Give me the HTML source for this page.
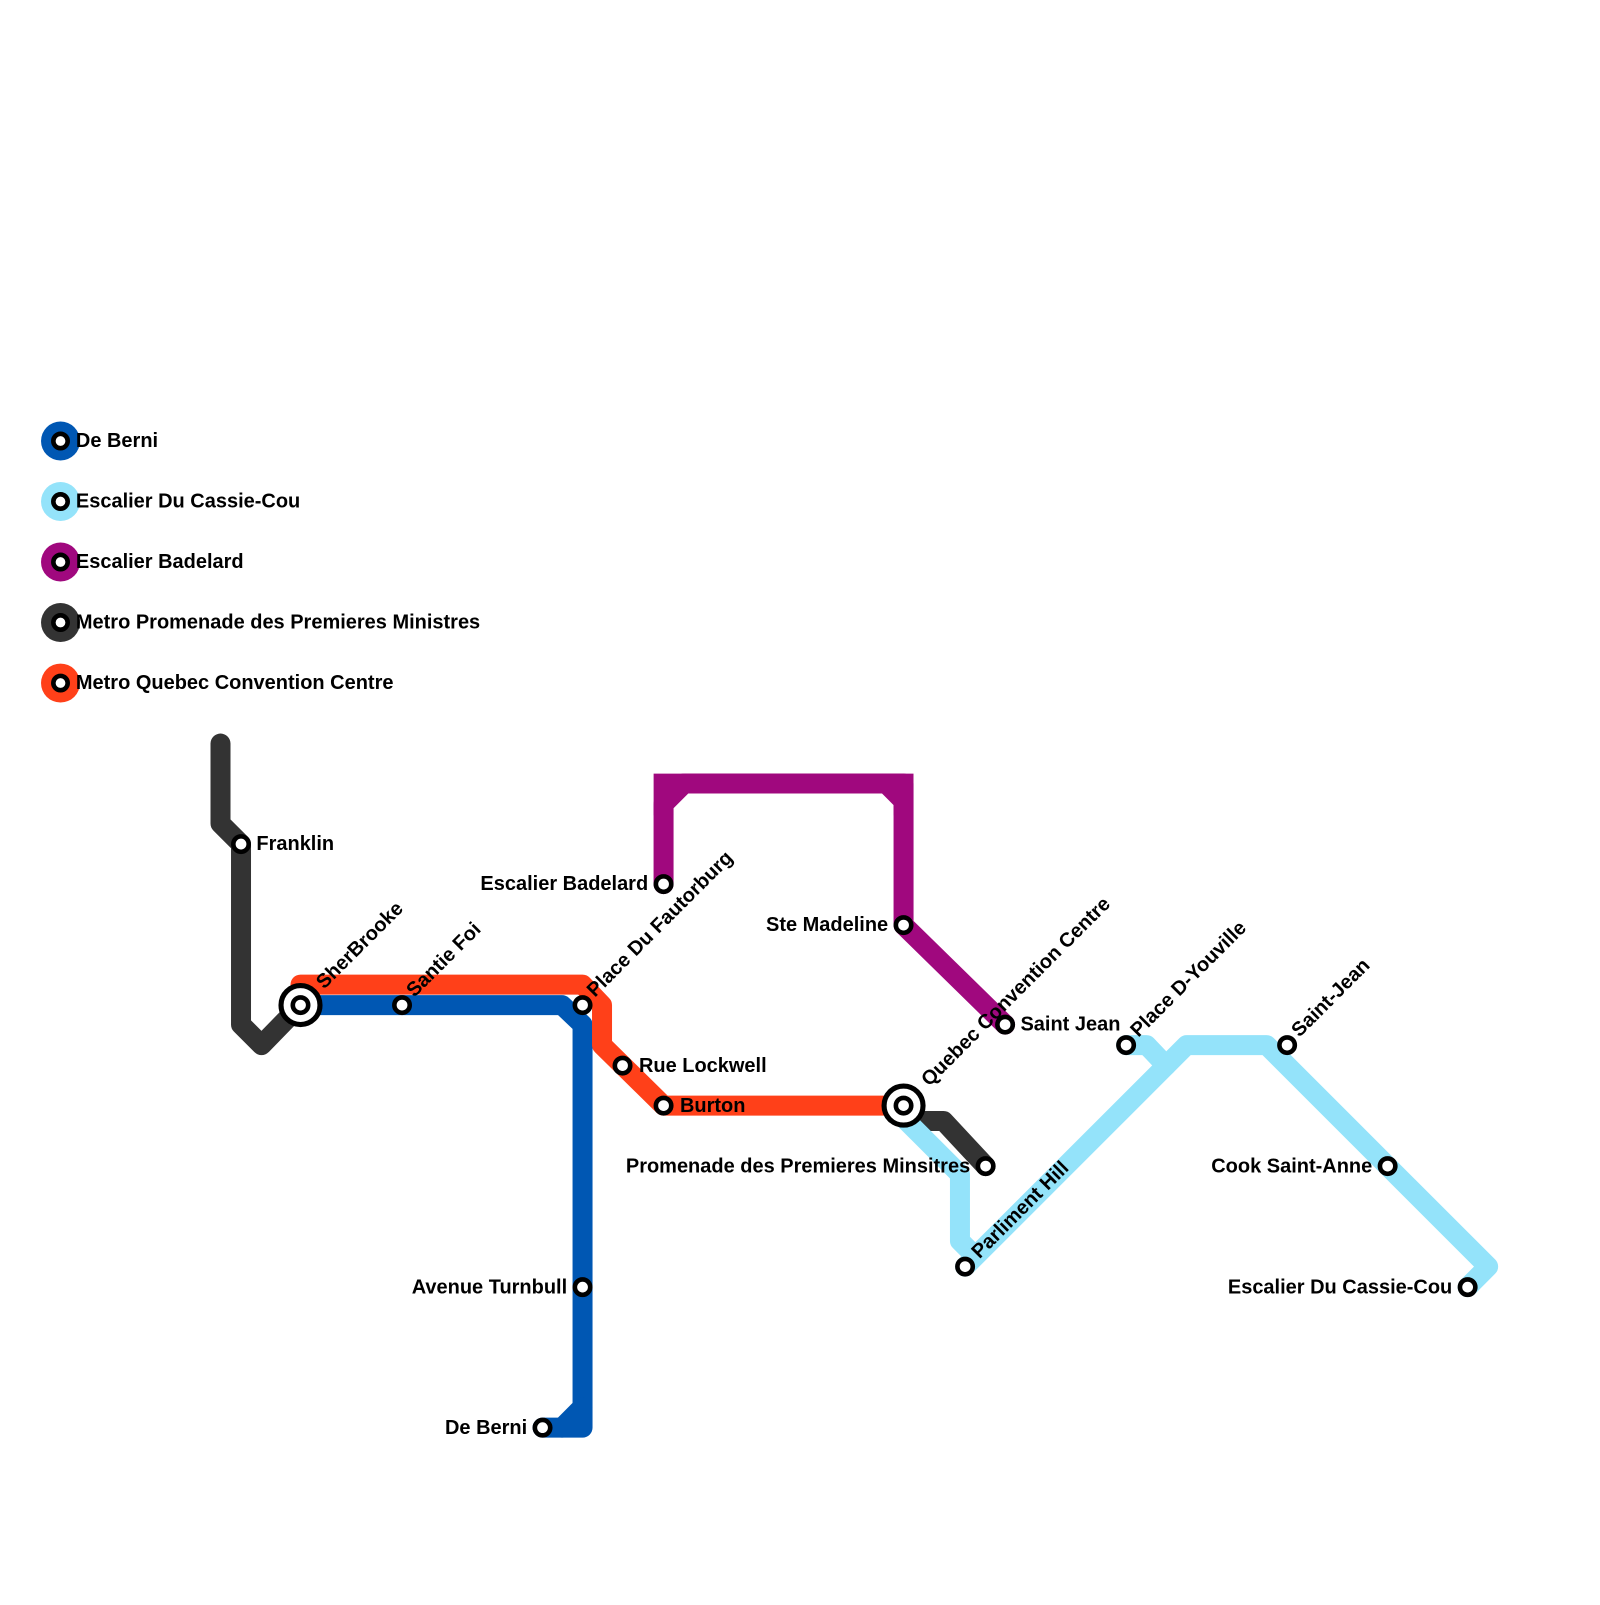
<!DOCTYPE html>
<html><head><meta charset="utf-8"><style>
html,body{margin:0;padding:0;background:#fff;}
svg text{font-family:"Liberation Sans",sans-serif;font-weight:bold;font-size:19.5px;fill:#000;}
</style></head><body>
<svg width="1600" height="1600" viewBox="0 0 1600 1600" xmlns="http://www.w3.org/2000/svg">
<g transform="scale(1.0256)">
<g fill="none" stroke-width="19.5" stroke-linejoin="round" stroke-linecap="round">
<polyline stroke="#333" points="215,725 215,803 235,823 235,999 255,1019 293,980"/>
<polyline stroke="#333" points="881,1078 896,1093 920,1093 961,1137"/>
<polyline stroke="#94e3fa" points="881,1090 936,1145 936,1210 946,1220"/>
<polyline stroke="#94e3fa" points="941,1235 1157,1019 1235,1019 1451,1235 1431,1255"/>
<polyline stroke="#94e3fa" points="1098,1019 1118,1019 1137,1039"/>
<polyline stroke="#a0087e" points="647,862 647,784 667,764 881,764 881,902 980,999"/>
<polyline stroke="#0057b3" points="293,980 548,980 568,999 568,1392 529,1392"/>
<polyline stroke="#0057b3" points="568,1372 548,1392"/>
<polyline stroke="#ff4019" points="293,960 568,960 587,980 587,1019 647,1078 881,1078"/>
</g>
<polygon fill="#a0087e" points="637.3,754.3 668,754.3 668,773.7 656.7,785 656.7,795 637.3,795"/>
<polygon fill="#a0087e" points="890.7,754.3 860,754.3 860,773.7 871.3,785 871.3,795 890.7,795"/>
<g fill="#fff" stroke="#000" stroke-width="4.5">
<circle cx="235" cy="823" r="7.5"/>
<circle cx="392" cy="980" r="7.5"/>
<circle cx="568" cy="980" r="7.5"/>
<circle cx="607" cy="1039" r="7.5"/>
<circle cx="647" cy="1078" r="7.5"/>
<circle cx="647" cy="862" r="7.5"/>
<circle cx="881" cy="902" r="7.5"/>
<circle cx="980" cy="999" r="7.5"/>
<circle cx="961" cy="1137" r="7.5"/>
<circle cx="941" cy="1235" r="7.5"/>
<circle cx="1098" cy="1019" r="7.5"/>
<circle cx="1255" cy="1019" r="7.5"/>
<circle cx="1353" cy="1137" r="7.5"/>
<circle cx="1431" cy="1255" r="7.5"/>
<circle cx="568" cy="1255" r="7.5"/>
<circle cx="529" cy="1392" r="7.5"/>
<circle cx="293" cy="980" r="19" stroke-width="5"/>
<circle cx="293" cy="980" r="7.5"/>
<circle cx="881" cy="1078" r="19" stroke-width="5"/>
<circle cx="881" cy="1078" r="7.5"/>
</g>
<g>
<circle cx="59" cy="430" r="19" fill="#0057b3"/>
<circle cx="59" cy="489" r="19" fill="#94e3fa"/>
<circle cx="59" cy="548" r="19" fill="#a0087e"/>
<circle cx="59" cy="607" r="19" fill="#333"/>
<circle cx="59" cy="666" r="19" fill="#ff4019"/>
<g fill="#fff" stroke="#000" stroke-width="4.5">
<circle cx="59" cy="430" r="7"/><circle cx="59" cy="489" r="7"/><circle cx="59" cy="548" r="7"/><circle cx="59" cy="607" r="7"/><circle cx="59" cy="666" r="7"/>
</g>
<text x="74" y="436">De Berni</text>
<text x="74" y="495">Escalier Du Cassie-Cou</text>
<text x="74" y="554">Escalier Badelard</text>
<text x="74" y="613">Metro Promenade des Premieres Ministres</text>
<text x="74" y="672">Metro Quebec Convention Centre</text>
</g>
<text x="250" y="829">Franklin</text>
<text x="623" y="1045">Rue Lockwell</text>
<text x="663" y="1084">Burton</text>
<text x="632" y="868" text-anchor="end">Escalier Badelard</text>
<text x="866" y="908" text-anchor="end">Ste Madeline</text>
<text x="995" y="1005">Saint Jean</text>
<text x="946" y="1143" text-anchor="end">Promenade des Premieres Minsitres</text>
<text x="1338" y="1143" text-anchor="end">Cook Saint-Anne</text>
<text x="1416" y="1261" text-anchor="end">Escalier Du Cassie-Cou</text>
<text x="553" y="1261" text-anchor="end">Avenue Turnbull</text>
<text x="514" y="1398" text-anchor="end">De Berni</text>
<text transform="translate(316,965) rotate(-45)">SherBrooke</text>
<text transform="translate(404,973) rotate(-45)">Santie Foi</text>
<text transform="translate(580,973) rotate(-45)">Place Du Fautorburg</text>
<text transform="translate(906,1060) rotate(-45)">Quebec Convention Centre</text>
<text transform="translate(955,1228) rotate(-45)">Parliment Hill</text>
<text transform="translate(1110,1012) rotate(-45)">Place D-Youville</text>
<text transform="translate(1267,1012) rotate(-45)">Saint-Jean</text>
</g>
</svg>
</body></html>
